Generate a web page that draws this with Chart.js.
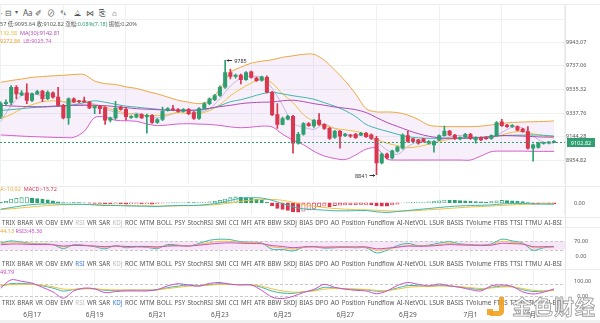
<!DOCTYPE html>
<html>
<head>
<meta charset="utf-8">
<script src="https://cdn.jsdelivr.net/npm/chart.js@4.4.1/dist/chart.umd.min.js"></script>
<style>
html,body{margin:0;padding:0;background:#fff;}
#wrap{position:relative;width:600px;height:323px;overflow:hidden;background:#fff;font-family:"Noto Sans","Noto Sans CJK SC",sans-serif;}
canvas{position:absolute;left:0;}
.t{position:absolute;white-space:nowrap;font-size:5.5px;line-height:7px;color:#555;}
.row{position:absolute;left:2px;width:560px;display:flex;justify-content:space-between;font-size:6.2px;line-height:8px;color:#555;white-space:nowrap;}
.hl{position:absolute;left:0;width:600px;height:1px;background:#ececec;}
.ic{position:absolute;top:8px;font-size:8px;line-height:9px;color:#555;}
</style>
</head>
<body>
<div id="wrap">
  <div class="hl" style="top:4px"></div>
  <div class="ic" style="left:-2px">−</div>
  <div class="ic" style="left:5px">⊟</div>
  <div class="ic" style="left:15px;font-size:6px">▾</div>
  <div class="ic" style="left:23px">Aa</div>
  <div class="ic" style="left:35px">✐</div>
  <div class="ic" style="left:47px">⊘</div>
  <div class="ic" style="left:60px">✎</div>
  <div class="ic" style="left:74px">⟁</div>
  <div class="ic" style="left:86px">⋈</div>
  <div class="ic" style="left:99px">⎘</div>
  <div class="ic" style="left:112px">⌂</div>

  <canvas id="cMain" width="600" height="186" style="top:0"></canvas>
  <canvas id="cMacd" width="600" height="31" style="top:186px"></canvas>
  <canvas id="cRsi" width="600" height="34" style="top:227px"></canvas>
  <canvas id="cKdj" width="600" height="54" style="top:266px"></canvas>

  <div class="t" style="left:0;top:21px">57 低:9095.64 收:9102.82 涨幅:<span style="color:#2f9f72">0.08%(7.18)</span> 振幅:0.20%</div>
  <div class="t" style="left:0;top:30px"><span style="color:#e8bf3c">132.58</span>&nbsp;&nbsp;<span style="color:#b04cb6">MA(30):9142.81</span></div>
  <div class="t" style="left:0;top:38px"><span style="color:#ec9f33">9272.86</span>&nbsp;&nbsp;<span style="color:#d05ac8">LB:9025.74</span></div>

  <div class="hl" style="top:186px"></div>
  <div class="t" style="left:0;top:186px"><span style="color:#e9a93a">A:-10.92</span>&nbsp;&nbsp;<span style="color:#d9364f">MACD:-15.72</span></div>
  <div class="hl" style="top:217px"></div>
  <div class="row" id="row1" style="top:218.5px"></div>
  <div class="hl" style="top:227px"></div>
  <div class="t" style="left:0;top:228px"><span style="color:#e9a93a">44.13</span>&nbsp;<span style="color:#c94fc6">RSI3:45.36</span></div>
  <div class="row" id="row2" style="top:260px"></div>
  <div class="hl" style="top:268.5px"></div>
  <div class="t" style="left:0;top:269px;color:#c94fc6">49.79</div>
  <div class="row" id="row3" style="top:298.5px"></div>
  <div style="position:absolute;left:565px;top:4px;width:1px;height:316px;background:#e8e8e8"></div>
  <div style="position:absolute;left:0;top:320px;width:600px;height:3px;background:#f0f0f0"></div>

  <div style="position:absolute;left:490px;top:297px;width:9px;height:14px;border:5px solid #f2a11e;border-top:none;border-left:none;border-radius:0 0 5px 0;opacity:.9"></div>
  <div style="position:absolute;left:487px;top:309px;width:6px;height:6px;background:#f2a11e;opacity:.9"></div>
  <div style="position:absolute;left:512px;top:294px;font-family:'Noto Sans CJK SC',sans-serif;font-weight:700;font-size:20px;line-height:26px;color:rgba(255,255,255,0.9);-webkit-text-stroke:0.8px #9a9a9a;letter-spacing:1px;white-space:nowrap">金色财经</div>
</div>
<script>
// ---------------- data ----------------
const dateIdx = [6, 18, 30, 42, 54, 66, 78, 90, 102];
const dateLabels = ['6月17', '6月19', '6月21', '6月23', '6月25', '6月27', '6月29', '7月1', '7月3'];
const priceTicks = [8954.82, 9144.28, 9337.76, 9535.32, 9737.06, 9943.07, 10148.8];
const indicatorNames = ['TRIX','BRAR','VR','OBV','EMV','RSI','WR','SAR','KDJ','ROC','MTM','BOLL','PSY','StochRSI','SMI','CCI','MFI','ATR','BBW','SKDJ','BIAS','DPO','AO','Position','Fundflow','AI-NetVOL','LSUR','BASIS','TVolume','FTBS','TTSI','TTMU','AI-BSI'];

const opens = [9309,9416,9426,9554,9490,9507,9443,9498,9521,9457, 9507,9471,9402,9298,9457,9438,9440,9430,9380,9393,
  9383,9279,9298,9388,9369,9301,9303,9325,9307,9320, 9260,9285,9360,9372,9366,9352,9369,9342,9293,9376,
  9416,9449,9484,9554,9680,9646,9658,9618,9685,9632, 9612,9638,9512,9325,9244,9287,9311,9092,9164,9252,
  9232,9279,9244,9213,9139,9188,9153,9156,9164,9158, 9172,9160,9131,8934,9005,8973,9028,9052,9153,9126,
  9118,9126,9092,9078,9118,9153,9190,9158,9126,9142, 9164,9118,9137,9137,9131,9153,9266,9238,9228,9226,
  9206,9185,9052,9057,9089,9094,9098];
const highs = [9432,9449,9568,9568,9526,9582,9507,9527,9527,9523, 9515,9554,9411,9465,9465,9444,9471,9436,9399,9399,
  9391,9305,9435,9395,9383,9317,9333,9333,9329,9325, 9293,9388,9383,9402,9374,9374,9374,9350,9383,9424,
  9465,9494,9565,9785,9708,9666,9666,9687,9691,9641, 9649,9652,9519,9416,9305,9321,9318,9180,9260,9260,
  9285,9333,9252,9220,9196,9196,9172,9164,9172,9180, 9180,9168,9148,9012,9012,9036,9068,9168,9190,9131,
  9123,9131,9112,9112,9160,9230,9196,9164,9144,9172, 9172,9144,9144,9144,9160,9268,9287,9244,9242,9232,
  9212,9226,9084,9100,9100,9103,9113.57];
const lows = [9293,9399,9407,9457,9482,9416,9432,9494,9432,9449, 9461,9395,9289,9244,9424,9424,9424,9374,9333,9333,
  9244,9264,9285,9362,9279,9293,9297,9293,9172,9252, 9252,9276,9354,9358,9346,9346,9325,9285,9285,9374,
  9407,9440,9477,9544,9624,9632,9582,9612,9632,9603, 9605,9507,9317,9212,9240,9281,9012,9084,9156,9228,
  9220,9236,9204,9123,9131,9052,9144,9139,9131,9152, 9139,9123,8841,8926,8965,8965,9020,9044,9100,9100,
  9084,9100,9084,9020,9112,9148,9152,9123,9119,9135, 9123,9092,9112,9123,9123,9148,9228,9220,9220,9192,
  9180,9044,8947,9052,9084,9086,9095.64];
const closes = [9416,9428,9554,9498,9507,9443,9498,9517,9457,9512, 9471,9402,9298,9457,9430,9432,9430,9380,9393,9374,
  9279,9298,9380,9369,9307,9311,9325,9298,9320,9260, 9285,9352,9374,9365,9352,9369,9333,9293,9374,9416,
  9457,9484,9554,9680,9646,9658,9618,9680,9638,9610, 9643,9512,9325,9244,9293,9311,9092,9164,9252,9234,
  9279,9244,9212,9131,9188,9148,9164,9148,9137,9172, 9145,9131,8934,9005,8973,9031,9060,9158,9105,9105,
  9092,9105,9105,9105,9153,9190,9158,9131,9137,9164, 9131,9137,9118,9129,9153,9260,9234,9226,9236,9198,
  9185,9052,9078,9092,9094,9095.64,9102.82];

// sample positions (candle index) for the indicator lines
const lineIdx = [0,2,4,6,8,10,12,14,16,18,20,22,24,26,28,30,32,34,36,38,40,42,44,46,48,50,52,54,56,58,60,62,64,66,68,70,72,74,76,78,80,82,84,86,88,90,92,94,96,98,100,102,104,106];
const ub = [9596,9611,9624,9638,9645,9651,9656,9662,9662,9607, 9584,9578,9557,9544,9519,9498,9471,9444,9428,9416,
  9440,9540,9680,9725,9760,9777,9789,9811,9824,9837, 9837,9785,9700,9607,9498,9374,9347,9347,9342,9321,
  9285,9238,9228,9226,9226,9226,9230,9240,9252,9260, 9264,9266,9268,9272.86];
const lb = [9158,9154,9149,9145,9142,9139,9137,9139,9188,9301, 9305,9278,9274,9270,9248,9234,9240,9248,9250,9247,
  9244,9236,9224,9217,9222,9230,9224,9164,9116,9080, 9026,8989,8969,8961,8997,9044,9052,8965,8957,8957,
  8957,8957,8957,8957,8957,8957,8989,9024,9028,9028, 9028,9026,9026,9025.74];
const ma20 = [9360,9366,9374,9383,9387,9391,9395,9407,9424,9440, 9428,9411,9395,9387,9378,9370,9362,9360,9360,9362,
  9374,9399,9432,9449,9473,9498,9511,9498,9482,9469, 9453,9424,9395,9358,9309,9244,9212,9188,9164,9144,
  9135,9131,9131,9131,9131,9131,9139,9148,9153,9156, 9157,9158,9156,9149.3];
const ma30 = [9402,9397,9393,9391,9391,9395,9399,9401,9402,9402, 9399,9391,9383,9374,9370,9366,9362,9360,9360,9365,
  9378,9391,9402,9416,9424,9428,9430,9440,9445,9433, 9416,9403,9388,9378,9366,9342,9301,9260,9228,9196,
  9168,9148,9135,9131,9133,9135,9137,9144,9153,9152, 9149,9145,9141,9142.81];
const ma10 = [9293,9325,9374,9407,9432,9440,9432,9432,9432,9407, 9387,9358,9338,9325,9317,9317,9325,9342,9333,9333,
  9358,9407,9482,9540,9590,9624,9590,9498,9424,9325, 9268,9236,9212,9200,9188,9164,9123,9092,9072,9056,
  9064,9084,9104,9123,9131,9137,9137,9139,9158,9180, 9185,9168,9152,9132.58];
const ma5 = [9268,9399,9482,9498,9484,9490,9428,9411,9409,9413, 9371,9345,9326,9338,9312,9298,9318,9346,9359,9344,
  9374,9457,9564,9631,9648,9638,9545,9402,9253,9222, 9204,9244,9211,9168,9156,9153,9104,9037,9001,9065,
  9104,9103,9112,9142,9154,9144,9137,9134,9179,9222, 9216,9150,9100,9091];

const macdHist = [10,25,60,72,80,82,76,68,60,48, 32,16,6,8,6,5,3,-5,-8,-9, -12,-14,-12,-14,-17,-15,-14,-16,-14,-17,
  -13,-5,4,5,6,7,5,4,7,12, 18,25,40,60,80,92,88,80,72,60, 46,10,-45,-85,-100,-115,-135,-140,-125,-105,
  -85,-55,-50,-62,-40,-33,-30,-28,-27,-24, -23,-25,-45,-48,-50,-30,-18,2,6,10, 12,15,18,22,32,44,42,40,36,33,
  26,22,18,15,20,34,38,35,32,27, 20,5,-15,-16,-14,-14,-15.72];
const dif = [-95,-70,-45,-25,-15,-12,-20,-20,-22,-30, -40,-40,-45,-48,-50,-55,-45,-40,-38,-35,
  -20,0,40,70,80,75,40,-10,-60,-90, -100,-110,-120,-120,-118,-115,-135,-145,-130,-115,
  -100,-85,-70,-55,-45,-40,-35,-30,-15,-10, -8,-15,-17,-19];
const dea = [-100,-90,-75,-60,-45,-35,-28,-25,-24,-25, -32,-35,-38,-42,-45,-48,-47,-44,-42,-40,
  -32,-20,0,25,42,52,55,40,10,-25, -50,-70,-85,-95,-102,-106,-112,-120,-124,-122,
  -115,-105,-95,-83,-72,-62,-54,-47,-38,-30, -22,-16,-13,-10.92];

const rsi1 = [62,72,66,60,58,55,36,55,52,45, 35,50,40,44,42,36,55,52,48,60, 75,80,78,68,66,62,33,32,25,42,
  45,38,40,42,40,40,16,28,50,60, 50,52,62,68,58,55,52,58,80,72, 62,28,40,45];
const rsi2 = [58,63,62,58,57,55,45,52,51,47, 42,48,44,45,44,41,50,50,48,55, 64,70,70,65,64,61,44,40,34,42,
  44,41,42,43,42,42,28,34,42,50, 48,49,55,60,55,53,51,54,70,65, 60,40,43,44.13];
const rsi3 = [54,57,57,55,55,54,48,51,50,48, 45,48,46,46,46,44,48,49,48,52, 57,61,63,61,60,59,50,46,40,44,
  45,43,44,44,44,44,35,38,43,48, 47,48,51,55,53,52,51,52,61,59, 57,45,45,45.36];

const kdjK = [68,85,86,82,70,55,35,45,52,50, 40,40,41,42,42,44,58,68,76,72, 78,84,80,77,76,60,35,22,20,30,
  40,60,56,50,46,44,34,38,56,72, 70,66,73,68,62,53,46,60,68,64, 44,32,35,42];
const kdjD = [72,78,80,80,74,64,48,47,50,50, 45,43,42,42,42,43,52,60,68,70, 74,79,80,78,77,68,50,36,28,30,
  36,48,52,51,49,46,40,39,48,60, 65,65,69,68,65,58,52,56,62,63, 52,40,37,39];
const kdjJ = [56,110,100,88,60,30,-12,36,55,50, 25,32,36,36,36,45,70,84,75,68, 86,92,80,76,76,40,-5,-14,0,26,
  46,80,60,48,40,36,18,36,72,92, 80,70,82,70,60,45,36,70,76,66, 30,16,28,49.79];

// ---------------- rendering ----------------
const FONT = '"Noto Sans","Noto Sans CJK SC",sans-serif';
Chart.defaults.font.family = FONT;
Chart.defaults.font.size = 5.5;
Chart.defaults.color = '#555';
const GREEN = '#2f9f72', RED = '#d9364f', GRID = '#edf2f1';
const TEAL = '#3fb6ad', YEL = '#f0c040', MAG = '#c94fc6';
const X_MIN = -0.134, X_MAX = 108.3;

function xAxis(withLabels) {
  return {
    type: 'linear', min: X_MIN, max: X_MAX, offset: false,
    grid: { color: GRID, drawTicks: false },
    border: { display: false },
    ticks: {
      display: !!withLabels, padding: 11, maxRotation: 0, autoSkip: false, color: '#555', font: { size: 6.5 },
      callback: v => { const k = dateIdx.indexOf(v); return k >= 0 ? dateLabels[k] : ''; }
    },
    afterBuildTicks: sc => { sc.ticks = dateIdx.map(v => ({ value: v })); },
    afterFit: sc => { sc.height = withLabels ? 20 : 0; }
  };
}
function yAxis(min, max, ticks, fmt, type) {
  return {
    type: type || 'linear', position: 'right', min, max,
    grid: { display: false },
    border: { display: false },
    ticks: { padding: 0, crossAlign: 'center', color: '#555', font: { size: 5.5 }, callback: fmt },
    afterBuildTicks: sc => { sc.ticks = ticks.map(v => ({ value: v })); },
    afterFit: sc => { sc.width = 30; }
  };
}
const candleIdx = closes.map((_, i) => i);
const cColors = candleIdx.map(i => closes[i] >= opens[i] ? GREEN : RED);
const pts = arr => arr.map((v, k) => ({ x: lineIdx[k], y: v }));
const line = (arr, color, order, extra) => Object.assign({
  type: 'line', data: pts(arr), borderColor: color, borderWidth: 1, pointRadius: 0,
  tension: 0.3, fill: false, order
}, extra || {});
const baseOpts = (padTop, padBottom) => ({
  responsive: false, animation: false, events: [],
  layout: { padding: { top: padTop || 0, right: 4, bottom: padBottom || 0, left: 0 } },
  plugins: { legend: { display: false }, tooltip: { enabled: false } }
});

// main price chart
const mainDecor = {
  id: 'mainDecor',
  afterDatasetsDraw(chart) {
    const { ctx, chartArea: a, scales: { x, y } } = chart;
    const last = closes[closes.length - 1];
    const py = Math.round(y.getPixelForValue(last)) + 0.5;
    ctx.save();
    ctx.strokeStyle = GREEN; ctx.lineWidth = 1; ctx.setLineDash([2, 2]);
    ctx.beginPath(); ctx.moveTo(a.left, py); ctx.lineTo(a.right, py); ctx.stroke();
    ctx.setLineDash([]);
    ctx.fillStyle = GREEN; ctx.fillRect(a.right + 1, py - 4.5, 28, 9);
    ctx.fillStyle = '#fff'; ctx.font = '5.5px ' + FONT; ctx.textAlign = 'center'; ctx.textBaseline = 'middle';
    ctx.fillText(last.toFixed(2), a.right + 15, py + 0.5);
    // max / min markers
    ctx.fillStyle = '#333'; ctx.strokeStyle = '#333';
    const hiI = highs.indexOf(Math.max(...highs));
    const hx = x.getPixelForValue(hiI), hy = Math.round(y.getPixelForValue(highs[hiI])) + 0.5;
    ctx.beginPath(); ctx.moveTo(hx + 1.5, hy); ctx.lineTo(hx + 7, hy); ctx.stroke();
    ctx.beginPath(); ctx.moveTo(hx + 1.5, hy); ctx.lineTo(hx + 3.5, hy - 1.5); ctx.lineTo(hx + 3.5, hy + 1.5); ctx.fill();
    ctx.textAlign = 'left'; ctx.fillText(String(highs[hiI]), hx + 9, hy + 0.5);
    const loI = lows.indexOf(Math.min(...lows));
    const lx = x.getPixelForValue(loI), ly = Math.round(y.getPixelForValue(lows[loI])) + 0.5;
    ctx.beginPath(); ctx.moveTo(lx - 7, ly); ctx.lineTo(lx - 1.5, ly); ctx.stroke();
    ctx.beginPath(); ctx.moveTo(lx - 1.5, ly); ctx.lineTo(lx - 3.5, ly - 1.5); ctx.lineTo(lx - 3.5, ly + 1.5); ctx.fill();
    ctx.textAlign = 'right'; ctx.fillText(String(lows[loI]), lx - 9, ly + 0.5);
    ctx.restore();
  }
};
const mainY = yAxis(8778.8, 10285.6, priceTicks, v => v > 10000 ? '' : Number(v).toFixed(2), 'logarithmic');
mainY.grid = { display: true, color: GRID, drawTicks: false };
new Chart(document.getElementById('cMain'), {
  type: 'bar',
  data: {
    datasets: [
      line(ub, '#f0a640', 4, { fill: '+1', backgroundColor: 'rgba(196,150,228,0.14)' }),
      line(lb, '#d65bc9', 4),
      line(ma30, '#b04cb6', 3),
      line(ma20, TEAL, 3),
      line(ma10, YEL, 3),
      line(ma5, '#c9b5de', 3),
      { type: 'bar', data: candleIdx.map(i => ({ x: i, y: [lows[i], highs[i]] })), backgroundColor: cColors,
        barThickness: 1, grouped: false, order: 1 },
      { type: 'bar', data: candleIdx.map(i => ({ x: i, y: [opens[i], closes[i]] })), backgroundColor: cColors,
        barThickness: 3.4, minBarLength: 1, grouped: false, order: 0 }
    ]
  },
  options: Object.assign(baseOpts(4, 1), { scales: { x: xAxis(false), y: mainY } }),
  plugins: [mainDecor]
});

// MACD
const histFill = macdHist.map((v, i) => {
  const c = v >= 0 ? GREEN : RED;
  const rising = i > 0 && v > macdHist[i - 1];
  return rising ? '#ffffff' : c;
});
const histBorder = macdHist.map(v => v >= 0 ? GREEN : RED);
new Chart(document.getElementById('cMacd'), {
  type: 'bar',
  data: {
    datasets: [
      line(dif, TEAL, 0),
      line(dea, YEL, 0),
      { type: 'bar', data: candleIdx.map(i => ({ x: i, y: macdHist[i] })), backgroundColor: histFill,
        borderColor: histBorder, borderWidth: 0.8, borderSkipped: false, barThickness: 3.4, grouped: false, order: 1 }
    ]
  },
  options: Object.assign(baseOpts(), { scales: { x: xAxis(false), y: yAxis(-164, 208, [0], v => Number(v).toFixed(2)) } })
});

// band helper plugin
function bandPlugin(id, from, to, fillColor, dashVals) {
  return {
    id,
    beforeDatasetsDraw(chart) {
      const { ctx, chartArea: a, scales: { y } } = chart;
      ctx.save();
      if (fillColor) {
        const y1 = y.getPixelForValue(from), y2 = y.getPixelForValue(to);
        ctx.fillStyle = fillColor; ctx.fillRect(a.left, y1, a.right - a.left, y2 - y1);
      }
      ctx.strokeStyle = '#c9c9c9'; ctx.lineWidth = 1; ctx.setLineDash([3, 2]);
      dashVals.forEach(v => {
        const yy = Math.round(y.getPixelForValue(v)) + 0.5;
        ctx.beginPath(); ctx.moveTo(a.left, yy); ctx.lineTo(a.right, yy); ctx.stroke();
      });
      ctx.restore();
    }
  };
}

// RSI
new Chart(document.getElementById('cRsi'), {
  type: 'line',
  data: { datasets: [ line(rsi1, TEAL, 2), line(rsi2, YEL, 1), line(rsi3, MAG, 0) ] },
  options: Object.assign(baseOpts(), { scales: { x: xAxis(false), y: yAxis(-6.4, 121.4, [0, 30, 70, 100], v => Number(v).toFixed(2)) } }),
  plugins: [bandPlugin('rsiBand', 70, 30, 'rgba(238,200,240,0.45)', [70, 30])]
});

// KDJ
new Chart(document.getElementById('cKdj'), {
  type: 'line',
  data: { datasets: [ line(kdjK, TEAL, 2), line(kdjD, YEL, 1), line(kdjJ, MAG, 0) ] },
  options: Object.assign(baseOpts(), { scales: { x: xAxis(true), y: yAxis(-24, 179.6, [0, 100], v => Number(v).toFixed(2)) } }),
  plugins: [bandPlugin('kdjBand', 0, 0, null, [80, 0])]
});

// indicator selector rows
function fillRow(id, active, dimmed) {
  const el = document.getElementById(id);
  indicatorNames.forEach(n => {
    const s = document.createElement('span');
    s.textContent = n;
    if (n === active) s.style.color = '#3b7be0';
    else if (dimmed.includes(n)) s.style.color = '#bdbdbd';
    el.appendChild(s);
  });
}
fillRow('row1', null, ['RSI', 'KDJ']);
fillRow('row2', 'RSI', ['KDJ']);
fillRow('row3', 'KDJ', ['RSI']);
</script>
</body>
</html>
